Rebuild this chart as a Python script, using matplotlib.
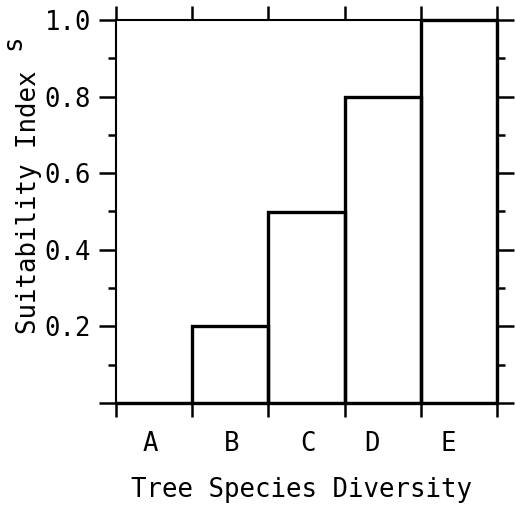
import numpy as np
import matplotlib.pyplot as plt
from matplotlib.ticker import MultipleLocator, FixedLocator

categories = ["A", "B", "C", "D", "E"]
suitability = [0.0, 0.2, 0.5, 0.8, 1.0]
label_pos = [0.45, 1.52, 2.52, 3.36, 4.36]   # letters are hand placed in the original
yticks = [0.0, 0.2, 0.4, 0.6, 0.8, 1.0]
ytick_labels = ["", "0.2", "0.4", "0.6", "0.8", "1.0"]

font = "DejaVu Sans Mono"
fs = 18.5

fig = plt.figure(figsize=(5.15, 5.13), dpi=100)
ax = fig.add_axes([116/515, 1 - 403/513, 381/515, 383/513])

x = np.arange(len(categories))
ax.bar(x, suitability, width=1.0, align="edge", fill=False,
       edgecolor="k", linewidth=2.4, clip_on=False)

ax.set_xlim(0, 5)
ax.set_ylim(0, 1)

for s in ax.spines.values():
    s.set_linewidth(1.5)

# x ticks at bin edges, labels placed separately
ax.xaxis.set_major_locator(FixedLocator(np.arange(0, 6)))
ax.set_xticklabels([])
ax.tick_params(axis="x", which="major", direction="out", length=10, width=1.8,
               top=True, bottom=True)
for lab, px in zip(categories, label_pos):
    ax.text(px, -0.108, lab, ha="center", va="center", family=font, fontsize=fs)

ax.set_yticks(yticks)
ax.set_yticklabels(ytick_labels, family=font, fontsize=fs)
ax.yaxis.set_minor_locator(MultipleLocator(0.1))
ax.tick_params(axis="y", which="major", direction="out", length=12, width=1.8,
               left=True, right=True, pad=6)
ax.tick_params(axis="y", which="minor", direction="out", length=6, width=1.8,
               left=True, right=True)

fig.text(0.5 * (130 + 473) / 515, 1 - 490/513, "Tree Species Diversity",
         ha="center", va="center", family=font, fontsize=fs)
fig.text(29/515, 1 - 202/513, "Suitability Index", rotation=90,
         ha="center", va="center", family=font, fontsize=fs)
# stray letter left over at the top-left corner of the scan
fig.text(0.5/515, 1 - 42/513, "s", rotation=90,
         ha="left", va="center", family=font, fontsize=fs)

fig.savefig("out.png", dpi=100, facecolor="white")
